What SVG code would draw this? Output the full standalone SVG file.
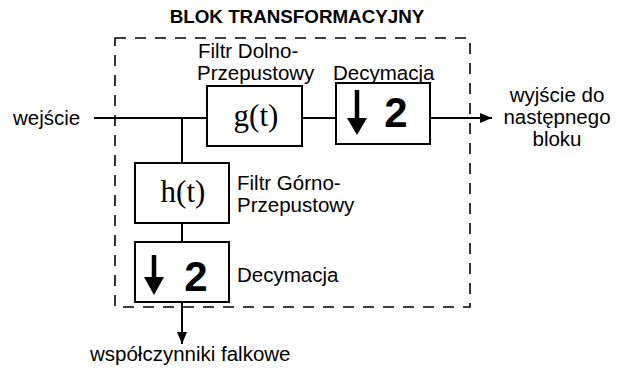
<svg xmlns="http://www.w3.org/2000/svg" width="628" height="370" viewBox="0 0 628 370">
<style>
.box{fill:#fff;stroke:#000;stroke-width:2}
.ln{stroke:#000;stroke-width:2;fill:none}
.lbl{font-family:"Liberation Sans",Arial,sans-serif;font-size:20.5px;fill:#000}
.fn{font-family:"Liberation Serif","Times New Roman",serif;font-size:31px;fill:#000}
.two{font-family:"Liberation Sans",Arial,sans-serif;font-size:42px;font-weight:bold;fill:#000}
.dash{fill:none;stroke:#000;stroke-width:1.6;stroke-dasharray:11,9}
.shaft{stroke:#000;stroke-width:4.5}
</style>
<defs>
<marker id="ah" viewBox="0 0 12 10" refX="12" refY="5" markerWidth="12" markerHeight="10" orient="auto" markerUnits="userSpaceOnUse">
<path d="M0,0 L12,5 L0,10 z" fill="#000"/>
</marker>
</defs>
<text x="297" y="23" text-anchor="middle" font-family="Liberation Sans,Arial,sans-serif" font-size="18.8" font-weight="bold">BLOK TRANSFORMACYJNY</text>
<rect id="frame" class="dash" x="115" y="38" width="355" height="269"/>
<g id="connectors">
<line class="ln" x1="94" y1="118" x2="207" y2="118"/>
<line class="ln" x1="302" y1="118" x2="336" y2="118"/>
<line class="ln" x1="430" y1="118" x2="492" y2="118" marker-end="url(#ah)"/>
<line class="ln" x1="182" y1="118" x2="182" y2="163"/>
<line class="ln" x1="182" y1="223" x2="182" y2="242"/>
<line class="ln" x1="182" y1="302" x2="182" y2="344" marker-end="url(#ah)"/>
</g>
<g id="g">
<rect class="box" x="207" y="86" width="95" height="60"/>
<text class="fn" x="256" y="126" text-anchor="middle">g(t)</text>
</g>
<g id="dec1">
<rect class="box" x="336" y="83" width="94" height="61"/>
<line class="shaft" x1="357" y1="90" x2="357" y2="120"/>
<path d="M347,118 L367,118 L357,135 z" fill="#000"/>
<text class="two" x="396" y="127" text-anchor="middle">2</text>
</g>
<g id="h">
<rect class="box" x="135" y="163" width="94" height="60"/>
<text class="fn" x="183" y="202" text-anchor="middle">h(t)</text>
</g>
<g id="dec2">
<rect class="box" x="135" y="242" width="94" height="60"/>
<line class="shaft" x1="154" y1="255" x2="154" y2="279"/>
<path d="M144,277 L164,277 L154,295 z" fill="#000"/>
<text class="two" x="196" y="291" text-anchor="middle">2</text>
</g>
<text class="lbl" x="198" y="58">Filtr Dolno-</text>
<text class="lbl" x="197" y="80">Przepustowy</text>
<text class="lbl" x="333" y="80">Decymacja</text>
<text class="lbl" x="13" y="125">wejście</text>
<text class="lbl" x="557" y="102" text-anchor="middle">wyjście do</text>
<text class="lbl" x="557" y="124" text-anchor="middle">następnego</text>
<text class="lbl" x="557" y="146" text-anchor="middle">bloku</text>
<text class="lbl" x="237" y="190">Filtr Górno-</text>
<text class="lbl" x="237" y="212">Przepustowy</text>
<text class="lbl" x="237" y="282">Decymacja</text>
<text class="lbl" x="90" y="361">współczynniki falkowe</text>
</svg>
